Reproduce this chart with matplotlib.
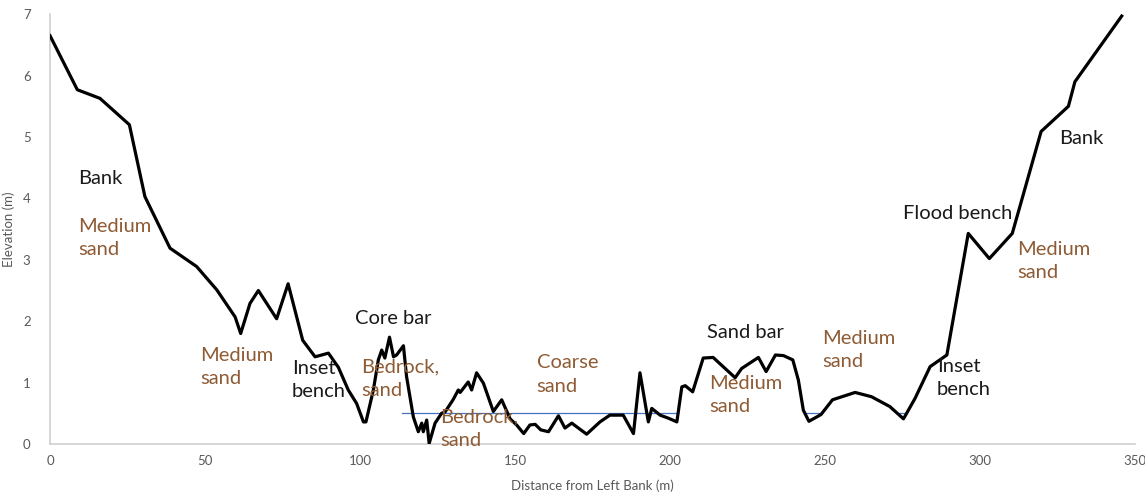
import matplotlib
matplotlib.use("Agg")
from matplotlib import pyplot as plt
import numpy as np

# surveyed cross-section, distance (m) vs bed elevation (m)
dist = [0, 8.8, 16.1, 25.6, 30.6, 38.7, 47.3, 53.8, 59.7, 61.5, 64.5, 67.2, 73.1, 76.8,
        81.5, 85.5, 89.8, 93.0, 96.2, 98.9, 101.1, 101.9, 104.3, 105.9, 107.0, 108.0,
        109.5, 110.8, 111.8, 114.0, 115.0, 117.2, 118.8, 119.9, 120.4, 121.5, 122.3,
        124.2, 126.3, 127.4, 130.0, 131.7, 132.3, 134.9, 136.0, 137.6, 139.8, 143.0,
        145.7, 148.4, 150.5, 152.8, 154.8, 156.5, 158.3, 160.8, 164.0, 166.1, 168.3,
        173.1, 177.4, 180.6, 184.9, 188.2, 190.3, 193.0, 194.1, 196.8, 199.5, 202.2,
        203.8, 204.9, 207.3, 210.7, 213.9, 221.0, 223.1, 228.5, 231.0, 234.0, 236.6,
        239.6, 241.4, 243.0, 244.8, 248.7, 252.4, 259.7, 265.0, 270.9, 275.3, 279.0,
        283.9, 289.3, 296.2, 303.0, 310.4, 319.7, 328.5, 330.6, 345.7]
elev = [6.65, 5.77, 5.63, 5.2, 4.03, 3.19, 2.89, 2.51, 2.07, 1.80, 2.29, 2.50, 2.04, 2.61,
        1.69, 1.42, 1.48, 1.25, 0.88, 0.66, 0.36, 0.36, 0.88, 1.37, 1.53, 1.40,
        1.74, 1.42, 1.45, 1.60, 1.10, 0.44, 0.20, 0.34, 0.20, 0.39, 0.01,
        0.34, 0.50, 0.52, 0.72, 0.88, 0.84, 1.01, 0.88, 1.16, 0.99, 0.53,
        0.72, 0.41, 0.31, 0.17, 0.31, 0.32, 0.23, 0.20, 0.46, 0.26, 0.34,
        0.16, 0.36, 0.47, 0.47, 0.17, 1.16, 0.36, 0.58, 0.47, 0.42, 0.36,
        0.93, 0.95, 0.85, 1.40, 1.41, 1.08, 1.23, 1.41, 1.18, 1.45, 1.44,
        1.37, 1.04, 0.55, 0.37, 0.48, 0.72, 0.84, 0.77, 0.61, 0.41, 0.74,
        1.26, 1.45, 3.43, 3.02, 3.43, 5.09, 5.50, 5.90, 6.97]

# water surface, broken into wetted reaches
water_x = [113.5, 202.6, np.nan, 243.8, 249.0, np.nan, 273.6, 276.3]
water_y = [0.51, 0.51, np.nan, 0.51, 0.51, np.nan, 0.50, 0.50]

# annotations: (x, y, text, kind)
notes = [
    (9.0, 4.32, "Bank", "form"),
    (9.0, 3.36, "Medium\nsand", "sed"),
    (48.5, 1.25, "Medium\nsand", "sed"),
    (78.0, 1.04, "Inset\nbench", "form"),
    (98.5, 2.05, "Core bar", "form"),
    (100.5, 1.06, "Bedrock,\nsand", "sed"),
    (125.8, 0.25, "Bedrock,\nsand", "sed"),
    (157.0, 1.13, "Coarse\nsand", "sed"),
    (212.0, 1.82, "Sand bar", "form"),
    (212.5, 0.80, "Medium\nsand", "sed"),
    (249.0, 1.53, "Medium\nsand", "sed"),
    (286.0, 1.07, "Inset\nbench", "form"),
    (275.0, 3.75, "Flood bench", "form"),
    (312.0, 2.98, "Medium\nsand", "sed"),
    (325.5, 4.97, "Bank", "form"),
]
colours = {"form": "#1a1a1a", "sed": "#8e5b34"}

plt.rcParams["font.family"] = ["Lato", "DejaVu Sans"]

fig = plt.figure(figsize=(11.45, 4.99), dpi=100)
ax = fig.add_axes([0.0437, 0.1102, 0.9476, 0.8613])

ax.plot(water_x, water_y, color="#4472c4", lw=0.9, zorder=2)
ax.plot(dist, elev, color="black", lw=2.3, zorder=3)

for x, y, s, kind in notes:
    ax.text(x, y, s, color=colours[kind], fontsize=14.5, ha="left", va="center",
            linespacing=1.45, zorder=4)

ax.set_xlim(0, 350)
ax.set_ylim(0, 7)
ax.set_xticks(range(0, 351, 50))
ax.set_yticks(range(0, 8))
ax.tick_params(length=0, labelsize=9.5, labelcolor="#595959", pad=8)
ax.tick_params(axis="y", pad=14)
for side in ("top", "right"):
    ax.spines[side].set_visible(False)
for side in ("left", "bottom"):
    ax.spines[side].set_color("#d0d0d0")
    ax.spines[side].set_linewidth(1.2)

ax.set_xlabel("Distance from Left Bank (m)", fontsize=9.5, color="#595959", labelpad=9)
ax.set_ylabel("Elevation (m)", fontsize=9.5, color="#595959", labelpad=6)

fig.savefig("out.png", dpi=100)
